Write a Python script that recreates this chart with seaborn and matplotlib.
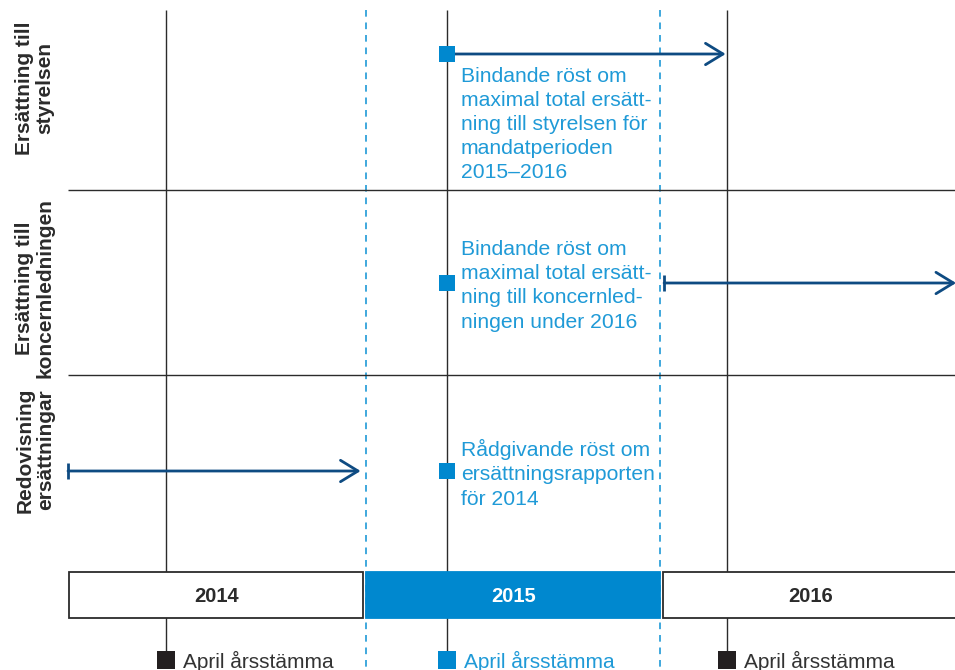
import numpy as np
import pandas as pd
import seaborn as sns
import matplotlib.pyplot as plt

# timeline data (x in years)
years = [2014, 2015, 2016]
highlight_year = 2015
meetings = [2014.33, 2015.276, 2016.219]
meeting_label = "April årsstämma"

row_labels = ["Ersättning till\nstyrelsen",
              "Ersättning till\nkoncernledningen",
              "Redovisning\nersättningar"]
vote_texts = ["Bindande röst om\nmaximal total ersätt-\nning till styrelsen för\nmandatperioden\n2015–2016",
              "Bindande röst om\nmaximal total ersätt-\nning till koncernled-\nningen under 2016",
              "Rådgivande röst om\nersättningsrapporten\nför 2014"]
vote_date = 2015.276
period_start = [2015.276, 2016.007, 2014.0]
period_end = [2016.219, 2016.995, 2014.99]
period_bar = [False, True, True]

# layout (pixel rows, y axis inverted)
row_y = [54, 283, 471]
row_label_y = [88, 288, 450]
sep_y = [190, 375]
box_y, box_h = 595, 46
top_y, bottom_y = 10, 655

BLUE = "#0088cf"
LBLUE = "#1f9ad7"
DBLUE = "#0e4b82"
GREY = "#2b2b2b"

sns.set_style("white")
plt.rcParams['font.family'] = ['Liberation Sans', 'DejaVu Sans']

fig = plt.figure(figsize=(9.55, 6.7), dpi=100)
ax = fig.add_axes([0, 0, 1, 1])
px = 297.0
x0 = 2014 - 68 / px
x1 = x0 + 955 / px

# vertical meeting lines and separators
ax.vlines(meetings, top_y, bottom_y, color=GREY, lw=1.0, zorder=1)
ax.vlines([highlight_year + 0.003, highlight_year + 0.993], top_y, 668,
          color=LBLUE, lw=1.2, linestyles=(0, (4, 3.5)), zorder=1)
ax.hlines(sep_y, 2014.0, x1, color=GREY, lw=1.0, zorder=1)

# year boxes
for yr in years:
    fc = BLUE if yr == highlight_year else "white"
    ec = BLUE if yr == highlight_year else GREY
    ax.barh(box_y, 0.99, left=yr + 0.003, height=box_h, color=fc,
            edgecolor=ec, lw=1.3, zorder=3)
    ax.text(yr + 0.5, box_y + 1, str(yr), ha="center", va="center",
            fontsize=14.5, fontweight="bold",
            color="white" if yr == highlight_year else GREY, zorder=4)

# periods as arrows
for i in range(3):
    ax.annotate("", xy=(period_end[i], row_y[i]), xytext=(period_start[i], row_y[i]),
                arrowprops=dict(arrowstyle="->,head_length=0.9,head_width=0.55",
                                color=DBLUE, lw=2.0, shrinkA=0, shrinkB=1,
                                mutation_scale=14),
                zorder=2, annotation_clip=False)
    if period_bar[i]:
        ax.plot([period_start[i]], [row_y[i]], marker="|", ms=11, mew=2.0,
                color=DBLUE, zorder=2)

# vote squares
votes = pd.DataFrame({"x": [vote_date] * 3, "y": row_y})
sns.scatterplot(data=votes, x="x", y="y", marker="s", s=130, color=BLUE,
                linewidth=0, ax=ax, zorder=5, legend=False)

# meeting squares
mt = pd.DataFrame({"x": meetings, "y": [660] * 3,
                   "c": ["b" if highlight_year <= m < highlight_year + 1 else "k" for m in meetings]})
sns.scatterplot(data=mt, x="x", y="y", hue="c", palette={"k": "#231f20", "b": BLUE},
                marker="s", s=165, linewidth=0, ax=ax, zorder=5, legend=False)
for m in meetings:
    inside = highlight_year <= m < highlight_year + 1
    ax.annotate(meeting_label, (m, 661), xytext=(12, 0), textcoords="offset points",
                va="center", ha="left", fontsize=15,
                color=LBLUE if inside else "#333333")

# vote texts
ax.annotate(vote_texts[0], (vote_date, row_y[0]), xytext=(10, -9),
            textcoords="offset points", va="top", ha="left", fontsize=15.2,
            color=LBLUE, linespacing=1.35)
for i in (1, 2):
    ax.annotate(vote_texts[i], (vote_date, row_y[i]), xytext=(10, -2),
                textcoords="offset points", va="center", ha="left", fontsize=15.2,
                color=LBLUE, linespacing=1.35)

# row labels
for lab, yy in zip(row_labels, row_label_y):
    ax.text(x0 + 35 / px, yy, lab, rotation=90, ha="center", va="center", fontsize=15,
            fontweight="bold", color=GREY, linespacing=1.1)

ax.set_xlabel("")
ax.set_ylabel("")
ax.set_xlim(x0, x1)
ax.set_ylim(670, 0)
ax.axis("off")

fig.savefig("out.png", dpi=100)
